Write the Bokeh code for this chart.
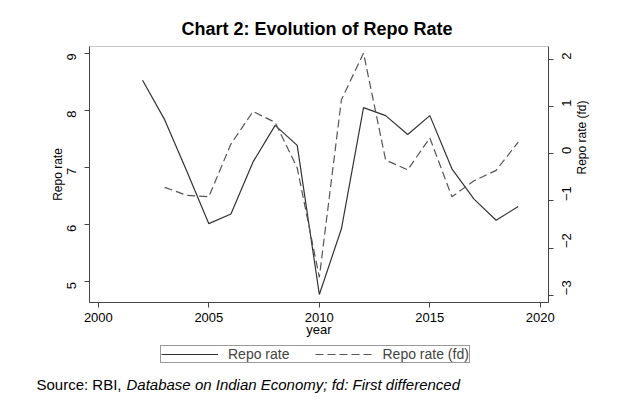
import math
from bokeh.plotting import figure
from bokeh.models import (Range1d, LinearAxis, FixedTicker, Legend, LegendItem, Label,
                          ColumnDataSource, BoxAnnotation)
from bokeh.embed import file_html
from bokeh.resources import INLINE

# ---- data ----
years = [2002, 2003, 2004, 2005, 2006, 2007, 2008, 2009, 2010,
         2011, 2012, 2013, 2014, 2015, 2016, 2017, 2018, 2019]
repo_rate = [8.53, 7.84, 6.94, 6.02, 6.19, 7.10, 7.74, 7.39, 4.78,
             5.93, 8.05, 7.91, 7.58, 7.91, 6.98, 6.45, 6.08, 6.32]
years_fd = [2003, 2004, 2005, 2006, 2007, 2008, 2009, 2010,
            2011, 2012, 2013, 2014, 2015, 2016, 2017, 2018, 2019]
repo_rate_fd = [-0.71, -0.88, -0.91, 0.21, 0.90, 0.67, -0.30, -2.62,
                1.15, 2.14, -0.13, -0.34, 0.34, -0.91, -0.57, -0.35, 0.25]
x_ticks = [2000, 2005, 2010, 2015, 2020]
left_ticks = [5, 6, 7, 8, 9]
right_ticks = [-3, -2, -1, 0, 1, 2]

title_text = "Chart 2: Evolution of Repo Rate"
source_plain = "Source: RBI, "
source_italic = "Database on Indian Economy; fd: First differenced"

# axis extents of the plot box
X0, X1 = 1999.6, 2020.37
Y0, Y1 = 4.64, 9.12
F0, F1 = -3.155, 2.28

# ---- layout (pixels) ----
W, H = 632, 403
BL, BR, BT, BB = 89, 548, 46, 302   # plot box edges on the page

FONT = "Liberation Sans"
AX = "#444444"

def ext(lo, hi, p_lo, p_hi, before, after):
    s = (hi - lo) / (p_hi - p_lo)
    return Range1d(lo - before * s, hi + after * s)

x_rng = ext(X0, X1, BL, BR, BL, W - BR)
y_rng = ext(Y0, Y1, BT, BB, H - BB, BT)
f_rng = ext(F0, F1, BT, BB, H - BB, BT)

p = figure(width=W, height=H, output_backend="svg", toolbar_location=None,
           x_range=x_rng, y_range=y_rng, min_border=0,
           min_border_left=0, min_border_right=0, min_border_top=0,
           min_border_bottom=0, background_fill_color="white",
           border_fill_color="white")
p.extra_y_ranges = {"fd": f_rng}
p.grid.visible = False
p.outline_line_color = None

def style_axis(ax, ticks):
    ax.ticker = FixedTicker(ticks=ticks)
    ax.axis_line_color = AX
    ax.major_tick_line_color = AX
    ax.minor_tick_line_color = None
    ax.major_tick_in = 0
    ax.major_tick_out = 5
    ax.major_label_text_font = FONT
    ax.major_label_text_font_size = "13px"
    ax.major_label_text_color = "black"
    ax.axis_label_text_font = FONT
    ax.axis_label_text_font_style = "normal"
    ax.axis_label_text_color = "black"

xa = p.xaxis[0]
style_axis(xa, x_ticks)
xa.fixed_location = Y0
xa.bounds = (X0, X1)
xa.axis_label = "year"
xa.axis_label_text_font_size = "13px"
xa.major_label_standoff = 5
xa.axis_label_standoff = -3

ya = p.yaxis[0]
style_axis(ya, left_ticks)
ya.fixed_location = X0
ya.bounds = (Y0, Y1)
ya.axis_label = "Repo rate"
ya.axis_label_text_font_size = "12px"
ya.major_label_orientation = math.pi / 2
ya.major_label_standoff = 13
ya.axis_label_standoff = -5

ra = LinearAxis(y_range_name="fd")
style_axis(ra, right_ticks)
ra.fixed_location = X1
ra.bounds = (F0, F1)
ra.axis_label = "Repo rate (fd)"
ra.axis_label_text_font_size = "12px"
ra.major_label_orientation = math.pi / 2
ra.axis_label_orientation = math.pi / 2
ra.major_label_standoff = 13
ra.axis_label_standoff = 3
p.add_layout(ra, "right")

# plot box outline
p.add_layout(BoxAnnotation(left=X0, right=X1, bottom=Y0, top=Y1,
                           fill_alpha=0, line_color=AX, line_width=1))

src1 = ColumnDataSource(dict(x=years, y=repo_rate))
src2 = ColumnDataSource(dict(x=years_fd, y=repo_rate_fd))
l1 = p.line("x", "y", source=src1, line_color="#333333", line_width=1.2)
l2 = p.line("x", "y", source=src2, line_color="#555555", line_width=1.2,
            line_dash="8 4", y_range_name="fd")

legend = Legend(items=[LegendItem(label="Repo rate", renderers=[l1]),
                       LegendItem(label="Repo rate (fd)", renderers=[l2])],
                location=(160, H - 363.3), orientation="horizontal",
                border_line_color="#333333", border_line_width=1,
                padding=0, margin=0, spacing=26,
                label_text_font=FONT, label_text_font_size="14px",
                glyph_width=57, glyph_height=10, label_height=10,
                label_standoff=10, background_fill_alpha=1)
p.add_layout(legend, "center")

p.add_layout(Label(x=316.5, y=H - 28.3, x_units="screen", y_units="screen",
                   text=title_text, text_font=FONT, text_font_size="18px",
                   text_font_style="bold", text_align="center",
                   text_baseline="alphabetic", text_color="black"))
p.add_layout(Label(x=36, y=H - 384.3, x_units="screen", y_units="screen",
                   text=source_plain, text_font=FONT, text_font_size="15px",
                   text_align="left", text_baseline="alphabetic",
                   text_color="black"))
p.add_layout(Label(x=126, y=H - 384.3, x_units="screen", y_units="screen",
                   text=source_italic, text_font=FONT, text_font_size="15px",
                   text_font_style="italic", text_align="left",
                   text_baseline="alphabetic", text_color="black"))

open("out.html", "w").write(file_html(p, INLINE))
